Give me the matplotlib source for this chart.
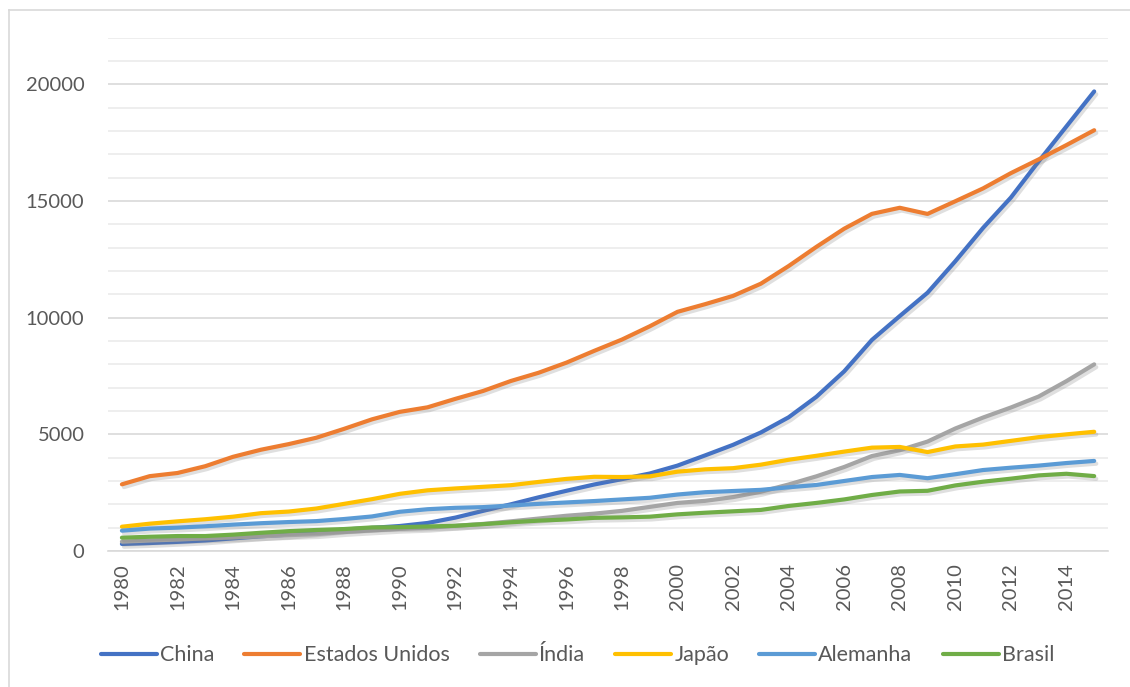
import numpy as np
import matplotlib.pyplot as plt
import matplotlib.patheffects as pe
from matplotlib.lines import Line2D

plt.rcParams['font.family'] = ['Lato', 'DejaVu Sans']

anos = list(range(1980, 2016))

# PIB (PPC), bilhões de dólares internacionais
china = [300, 340, 390, 450, 540, 630, 700, 800, 920, 990,
         1070, 1200, 1430, 1720, 2000, 2300, 2580, 2850, 3080, 3320,
         3660, 4100, 4550, 5080, 5730, 6610, 7700, 9050, 10070, 11070,
         12420, 13850, 15150, 16700, 18200, 19700]
eua = [2857, 3207, 3343, 3634, 4037, 4339, 4580, 4855, 5236, 5642,
       5963, 6158, 6520, 6859, 7287, 7640, 8073, 8578, 9063, 9631,
       10252, 10582, 10936, 11458, 12214, 13037, 13815, 14452, 14713, 14449,
       14992, 15543, 16197, 16785, 17400, 18037]
india = [400, 450, 490, 540, 580, 630, 680, 720, 810, 880,
         950, 990, 1080, 1160, 1270, 1390, 1510, 1600, 1720, 1890,
         2060, 2150, 2310, 2540, 2850, 3200, 3600, 4070, 4320, 4690,
         5250, 5720, 6150, 6620, 7280, 8000]
japao = [1040, 1170, 1270, 1360, 1470, 1620, 1690, 1820, 2020, 2220,
         2450, 2600, 2680, 2750, 2820, 2960, 3090, 3180, 3170, 3200,
         3400, 3500, 3550, 3700, 3910, 4080, 4260, 4430, 4460, 4240,
         4480, 4560, 4720, 4880, 5000, 5110]
alemanha = [870, 960, 1000, 1060, 1130, 1190, 1240, 1280, 1370, 1480,
            1680, 1790, 1850, 1880, 1950, 2020, 2080, 2140, 2210, 2280,
            2420, 2520, 2570, 2620, 2730, 2830, 3000, 3170, 3260, 3120,
            3290, 3470, 3570, 3660, 3770, 3860]
brasil = [570, 610, 640, 640, 700, 780, 850, 900, 940, 1010,
          1020, 1050, 1080, 1150, 1230, 1300, 1350, 1420, 1440, 1470,
          1570, 1640, 1700, 1760, 1930, 2060, 2210, 2400, 2550, 2580,
          2810, 2970, 3100, 3240, 3310, 3210]

nomes = ['China', 'Estados Unidos', 'Índia', 'Japão', 'Alemanha', 'Brasil']
series = [china, eua, india, japao, alemanha, brasil]
cores = ['#4472C4', '#ED7D31', '#A5A5A5', '#FFC000', '#5B9BD5', '#70AD47']

fig = plt.figure(figsize=(11.30, 6.87), dpi=100)
ax = fig.add_axes([0.0956, 0.198, 0.885, 0.747])

x = np.arange(len(anos))
sombra = [pe.SimpleLineShadow(offset=(1.5, -2), shadow_color='#808080', alpha=0.25),
          pe.Normal()]
for nome, valores, cor in zip(nomes, series, cores):
    ax.plot(x, valores, color=cor, lw=3, solid_capstyle='round',
            solid_joinstyle='round', label=nome, path_effects=sombra)

ax.set_xlim(-0.5, len(anos) - 0.5)
ax.set_ylim(0, 22000)

ax.set_yticks(range(0, 22001, 5000))
ax.set_yticks(range(0, 22001, 1000), minor=True)
ax.grid(axis='y', which='major', color='#D9D9D9', lw=1.2)
ax.grid(axis='y', which='minor', color='#EBEBEB', lw=1.2)
ax.set_axisbelow(True)

ax.set_xticks(x[::2])
ax.set_xticklabels([str(a) for a in anos[::2]], rotation=90)
ax.tick_params(axis='both', which='both', length=0, labelsize=14.5, labelcolor='#595959')
ax.tick_params(axis='y', pad=17)
ax.tick_params(axis='x', pad=9)

for lado in ['top', 'right', 'left']:
    ax.spines[lado].set_visible(False)
ax.spines['bottom'].set_color('#D9D9D9')
ax.spines['bottom'].set_linewidth(1.2)

handles = [Line2D([0], [0], color=c, lw=3, solid_capstyle='round') for c in cores]
fig.legend(handles, nomes, loc='center', bbox_to_anchor=(0.511, 0.046), ncol=6,
           frameon=False, prop={'size': 15.5}, labelcolor='#595959', handlelength=2.6,
           handletextpad=0.15, columnspacing=1.4)

# borda da área do gráfico
fig.add_artist(plt.Line2D([9 / 1130, 9 / 1130], [0, 1 - 10 / 687],
                          transform=fig.transFigure, color='#D9D9D9', lw=1.2))
fig.add_artist(plt.Line2D([9 / 1130, 1], [1 - 10 / 687, 1 - 10 / 687],
                          transform=fig.transFigure, color='#D9D9D9', lw=1.2))

fig.savefig('out.png', dpi=100)
